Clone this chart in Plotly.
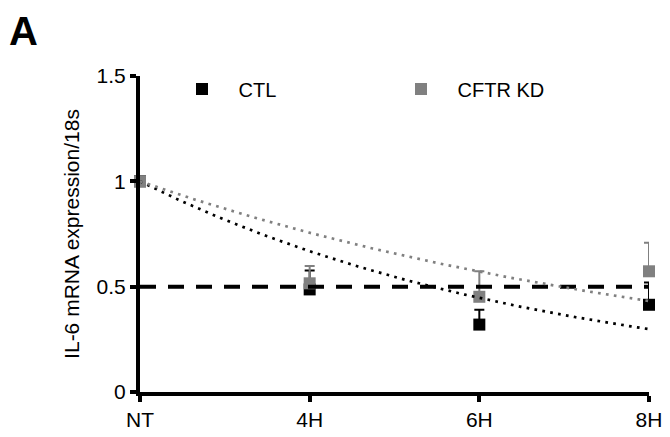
import numpy as np
import plotly.graph_objects as go

categories = ["NT", "4H", "6H", "8H"]
ctl_values = [1.0, 0.487, 0.32, 0.414]
ctl_err = [0.0, 0.09, 0.07, 0.106]
kd_values = [1.0, 0.516, 0.452, 0.573]
kd_err = [0.0, 0.082, 0.121, 0.135]
threshold = 0.5
y_ticks = [0, 0.5, 1, 1.5]
y_tick_labels = ["0", "0.5", "1", "1.5"]

xpos = np.arange(len(categories))

def exp_fit(vals):
    # exponential trendline with intercept fixed at 1 (fit on log values)
    x = xpos.astype(float)
    ly = np.log(np.array(vals))
    b = np.sum(x * ly) / np.sum(x * x)
    xs = np.linspace(0, len(categories) - 1, 200)
    return xs, np.exp(b * xs)

FONT = "Liberation Sans, Arial, sans-serif"
GREY = "#808080"
FS = 21
FS_LEG = 20

# page has an 8px body margin: figure coordinates are page coordinates - 8
OFF = 8
W, H = 670 - OFF, 437 - OFF
L, R_EDGE, T, B_EDGE = 140 - OFF, 649 - OFF, 76 - OFF, 392 - OFF
PW, PH = R_EDGE - L, B_EDGE - T

def px_x(p):
    return (p - OFF - L) / PW
def px_y(p):
    return (B_EDGE - (p - OFF)) / PH

fig = go.Figure()

fig.add_trace(go.Scatter(
    x=xpos, y=ctl_values, mode="markers", name="CTL", legend="legend",
    marker=dict(symbol="square", size=12, color="black"), cliponaxis=False,
    error_y=dict(type="data", array=ctl_err, symmetric=False, arrayminus=[0]*4,
                 color="black", thickness=2, width=5),
))
fig.add_trace(go.Scatter(
    x=xpos, y=kd_values, mode="markers", name="CFTR KD", legend="legend2",
    marker=dict(symbol="square", size=12, color=GREY), cliponaxis=False,
    error_y=dict(type="data", array=kd_err, symmetric=False, arrayminus=[0]*4,
                 color=GREY, thickness=2, width=5),
))

fig.add_trace(go.Scatter(
    x=[0, len(categories) - 1], y=[threshold, threshold], mode="lines",
    line=dict(color="black", width=4, dash="16px,12px"),
    showlegend=False, hoverinfo="skip",
))

xs, ys = exp_fit(ctl_values)
fig.add_trace(go.Scatter(x=xs, y=ys, mode="lines", cliponaxis=False,
                         line=dict(color="black", width=2.7, dash="2.7px,5.3px"),
                         showlegend=False, hoverinfo="skip"))
xs, ys = exp_fit(kd_values)
fig.add_trace(go.Scatter(x=xs, y=ys, mode="lines", cliponaxis=False,
                         line=dict(color=GREY, width=2.7, dash="2.7px,5.3px"),
                         showlegend=False, hoverinfo="skip"))

leg_common = dict(orientation="h", xanchor="left", yanchor="middle",
                  itemwidth=63, font=dict(size=FS_LEG, family=FONT),
                  bgcolor="rgba(0,0,0,0)", borderwidth=0)

fig.update_layout(
    width=W, height=H,
    margin=dict(l=L, r=W - R_EDGE, t=T, b=H - B_EDGE, autoexpand=False),
    paper_bgcolor="white", plot_bgcolor="white",
    font=dict(family=FONT, size=FS, color="black"),
    showlegend=True,
    legend=dict(x=px_x(165.5), y=px_y(89), **leg_common),
    legend2=dict(x=px_x(384.5), y=px_y(89), **leg_common),
    xaxis=dict(range=[0, 3], tickmode="array", tickvals=list(xpos), ticktext=categories,
               showline=True, linecolor="black", linewidth=4, ticks="outside",
               ticklen=6, tickwidth=4, tickcolor="black", showgrid=False, zeroline=False,
               tickfont=dict(size=FS), automargin=False, fixedrange=True),
    yaxis=dict(range=[0, 1.5], tickmode="array", tickvals=y_ticks, ticktext=y_tick_labels,
               showline=True, linecolor="black", linewidth=4, ticks="outside",
               ticklen=6, tickwidth=4, tickcolor="black", showgrid=False, zeroline=False,
               tickfont=dict(size=FS), automargin=False,
               title=dict(text="IL-6 mRNA expression/18s", font=dict(size=FS), standoff=12)),
)
fig.add_annotation(text="<b>A</b>", xref="paper", yref="paper",
                   x=px_x(8), y=px_y(8), xanchor="left", yanchor="top",
                   borderpad=0, showarrow=False, font=dict(size=40, family=FONT))

fig.write_html("out.html")
